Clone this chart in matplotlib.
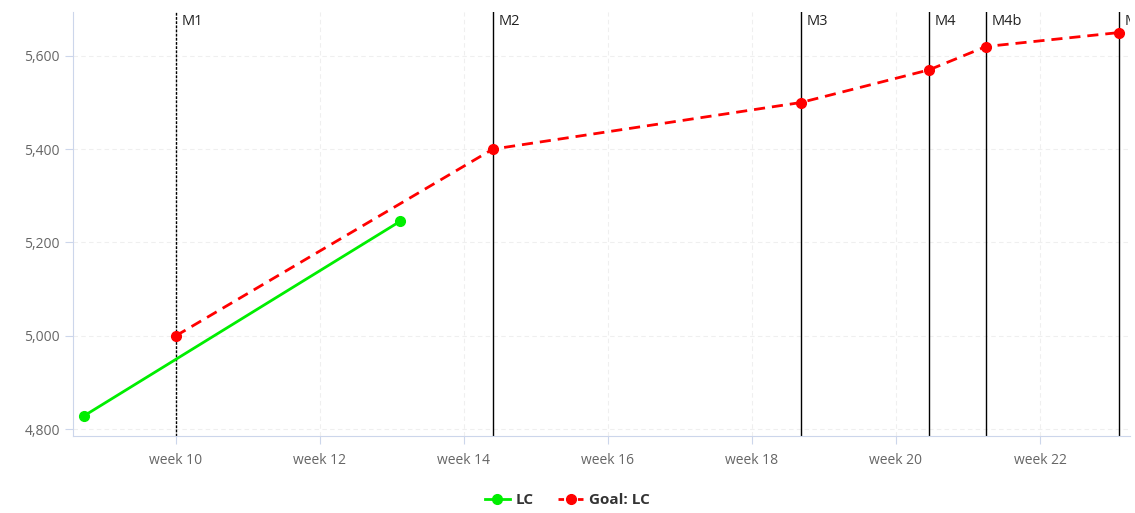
import matplotlib
matplotlib.use("Agg")
from matplotlib import pyplot as plt
from matplotlib.lines import Line2D

plt.rcParams['font.family'] = ['Open Sans', 'DejaVu Sans']

# actual LC values
lc_weeks = [8.72, 13.11]
lc_values = [4828, 5245]

# goal values at milestones
goal_weeks = [10.0, 14.40, 18.68, 20.46, 21.25, 23.10]
goal_values = [5000, 5400, 5500, 5570, 5620, 5650]
milestones = ["M1", "M2", "M3", "M4", "M4b", "M5"]

xticks = [10, 12, 14, 16, 18, 20, 22]
xtick_labels = ["week %d" % w for w in xticks]
yticks = [4800, 5000, 5200, 5400, 5600]

fig = plt.figure(figsize=(11.35, 5.13), dpi=100)
ax = fig.add_axes([0.0643, 0.150, 0.9313, 0.8266])

grid_col = "#efefef"
ax.set_xlim(8.57, 23.25)
ax.set_ylim(4785, 5694)
ax.set_xticks(xticks)
ax.set_xticklabels(xtick_labels)
ax.set_yticks(yticks)
ax.set_yticklabels(["{:,}".format(v) for v in yticks])
ax.grid(True, color=grid_col, linestyle=(0, (4, 3)), linewidth=0.8)
ax.set_axisbelow(True)

for s in ["top", "right"]:
    ax.spines[s].set_visible(False)
for s in ["left", "bottom"]:
    ax.spines[s].set_color("#ccd6eb")
ax.tick_params(axis="both", colors="#ccd6eb", labelcolor="#666666", labelsize=10, length=6)
ax.tick_params(axis="x", pad=6)

# milestone lines
for i, (w, name) in enumerate(zip(goal_weeks, milestones)):
    if i == 0:
        ax.axvline(w, color="black", linewidth=1.0, linestyle=(0, (2, 1)), zorder=2)
    else:
        ax.axvline(w, color="black", linewidth=1.0, zorder=2)
    ax.text(w + 0.08, 5694 - 5, name, ha="left", va="top", fontsize=10.5,
            color="#222222", clip_on=True)

ax.plot(goal_weeks, goal_values, color="#ff0000", linestyle=(0, (4, 2.5)), linewidth=2,
        marker="o", markersize=7, zorder=4)
ax.plot(lc_weeks, lc_values, color="#00ee00", linewidth=2, marker="o", markersize=7, zorder=4)

handles = [
    Line2D([], [], color="#00ee00", linewidth=2, marker="o", markersize=7),
    Line2D([], [], color="#ff0000", linewidth=2, linestyle=(0, (2, 1.5)), marker="o", markersize=7),
]
fig.legend(handles, ["LC", "Goal: LC"], loc="lower center", bbox_to_anchor=(0.5, -0.015),
           ncol=2, frameon=False, prop={"weight": "bold", "size": 11},
           handlelength=1.6, handletextpad=0.4, columnspacing=1.6, labelcolor="#333333")

fig.savefig("out.png", dpi=100)
